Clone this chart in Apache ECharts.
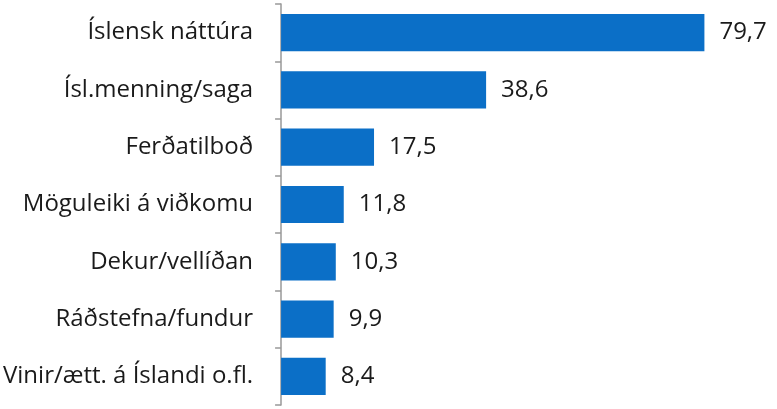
<!DOCTYPE html>
<html>
<head>
<meta charset="utf-8">
<script src="https://cdn.jsdelivr.net/npm/echarts@6/dist/echarts.min.js"></script>
<style>
  html, body { margin: 0; padding: 0; background: #fff; }
  #chart { width: 777px; height: 409px; }
</style>
</head>
<body>
<div id="chart"></div>
<script>
const categories = [
  'Íslensk náttúra',
  'Ísl.menning/saga',
  'Ferðatilboð',
  'Möguleiki á viðkomu',
  'Dekur/vellíðan',
  'Ráðstefna/fundur',
  'Vinir/ætt. á Íslandi o.fl.'
];
const values = [79.7, 38.6, 17.5, 11.8, 10.3, 9.9, 8.4];

const chart = echarts.init(document.getElementById('chart'));

chart.setOption({
  animation: false,
  grid: { left: 281, right: 71, top: 4, bottom: 4, containLabel: false },
  xAxis: {
    type: 'value',
    min: 0,
    max: 80,
    show: false
  },
  yAxis: {
    type: 'category',
    inverse: true,
    data: categories,
    axisLine: { show: true, lineStyle: { color: '#999', width: 1.5 } },
    axisTick: { show: true, length: 6, lineStyle: { color: '#999', width: 1.5 } },
    axisLabel: {
      margin: 28,
      fontSize: 24,
      color: '#1a1a1a',
      fontFamily: 'Open Sans'
    }
  },
  series: [{
    type: 'bar',
    data: values,
    barCategoryGap: '35%',
    itemStyle: { color: '#0b6fc7' },
    label: {
      show: true,
      position: 'right',
      distance: 15,
      fontSize: 24,
      color: '#1a1a1a',
      fontFamily: 'Open Sans',
      formatter: p => p.value.toFixed(1).replace('.', ',')
    }
  }]
});
</script>
</body>
</html>
